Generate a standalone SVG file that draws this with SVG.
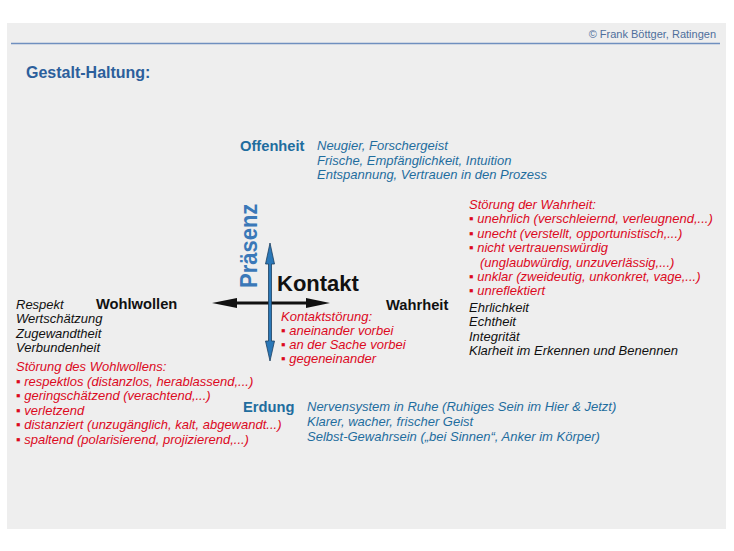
<svg xmlns="http://www.w3.org/2000/svg" width="734" height="551" viewBox="0 0 734 551">
<style>
text{font-family:"Liberation Sans",Arial,sans-serif}
.it{font-style:italic;font-size:13px}
.red{fill:#dc0a1e}
.blk{fill:#111}
.blu{fill:#1f6d9e}
.hb{font-weight:bold;font-size:14.7px}
</style>
<rect x="0" y="0" width="734" height="551" fill="#ffffff"/>
<rect x="7" y="23" width="719" height="506" fill="#eeeeee"/>
<line x1="11" y1="43.5" x2="720" y2="43.5" stroke="#6f8fbf" stroke-width="1.5"/>
<text x="716" y="38" text-anchor="end" font-size="11" fill="#4e6e9c" font-family="'Liberation Sans Narrow','Liberation Sans',sans-serif">© Frank Böttger, Ratingen</text>
<text x="26" y="78" font-size="16" font-weight="bold" fill="#2c5f9c">Gestalt-Haltung:</text>

<g id="connectors">
<polygon points="212,303 237,298 237,301.5 306,301.5 306,298 330,303 306,308 306,304.5 237,304.5 237,308" fill="#111"/>
<polygon points="270,243 274.5,264 271.5,264 271.5,341 274.5,341 270,361 265.5,341 268.5,341 268.5,264 265.5,264" fill="#2a78b8" stroke="#1d3f60" stroke-width="0.8"/>
</g>

<g id="kontakt">
<text x="277" y="291" font-size="22" font-weight="bold" fill="#111">Kontakt</text>
</g>
<g id="praesenz">
<text transform="translate(257,288) rotate(-90) scale(1,1.12)" font-size="22" font-weight="bold" fill="#3a78b8">Präsenz</text>
</g>
<g id="kontaktstoerung" class="it red">
<text x="281" y="321">Kontaktstörung:</text>
<text x="281" y="335">▪ aneinander vorbei</text>
<text x="281" y="349">▪ an der Sache vorbei</text>
<text x="281" y="363">▪ gegeneinander</text>
</g>

<g id="offenheit">
<text x="240" y="151" class="hb blu">Offenheit</text>
<g class="it blu">
<text x="317" y="150">Neugier, Forschergeist</text>
<text x="317" y="164.5">Frische, Empfänglichkeit, Intuition</text>
<text x="317" y="179">Entspannung, Vertrauen in den Prozess</text>
</g>
</g>

<g id="wahrheit">
<text x="386" y="310" class="hb blk">Wahrheit</text>
<g class="it red">
<text x="469" y="209">Störung der Wahrheit:</text>
<text x="469" y="223">▪ unehrlich (verschleiernd, verleugnend,...)</text>
<text x="469" y="237.5">▪ unecht (verstellt, opportunistisch,...)</text>
<text x="469" y="252">▪ nicht vertrauenswürdig</text>
<text x="480" y="266.5">(unglaubwürdig, unzuverlässig,...)</text>
<text x="469" y="281">▪ unklar (zweideutig, unkonkret, vage,...)</text>
<text x="469" y="295">▪ unreflektiert</text>
</g>
<g class="it blk">
<text x="469" y="311.5">Ehrlichkeit</text>
<text x="469" y="326">Echtheit</text>
<text x="469" y="340.5">Integrität</text>
<text x="469" y="355">Klarheit im Erkennen und Benennen</text>
</g>
</g>

<g id="wohlwollen">
<text x="96" y="308.5" class="hb blk">Wohlwollen</text>
<g class="it blk">
<text x="16" y="308.5">Respekt</text>
<text x="16" y="323">Wertschätzung</text>
<text x="16" y="337.5">Zugewandtheit</text>
<text x="16" y="352">Verbundenheit</text>
</g>
<g class="it red">
<text x="16" y="371">Störung des Wohlwollens:</text>
<text x="16" y="386">▪ respektlos (distanzlos, herablassend,...)</text>
<text x="16" y="400">▪ geringschätzend (verachtend,...)</text>
<text x="16" y="414.5">▪ verletzend</text>
<text x="16" y="429">▪ distanziert (unzugänglich, kalt, abgewandt...)</text>
<text x="16" y="443.5">▪ spaltend (polarisierend, projizierend,...)</text>
</g>
</g>

<g id="erdung">
<text x="243" y="412" class="hb blu">Erdung</text>
<g class="it blu">
<text x="307" y="411">Nervensystem in Ruhe (Ruhiges Sein im Hier &amp; Jetzt)</text>
<text x="307" y="426">Klarer, wacher, frischer Geist</text>
<text x="307" y="441">Selbst-Gewahrsein („bei Sinnen“, Anker im Körper)</text>
</g>
</g>
</svg>
